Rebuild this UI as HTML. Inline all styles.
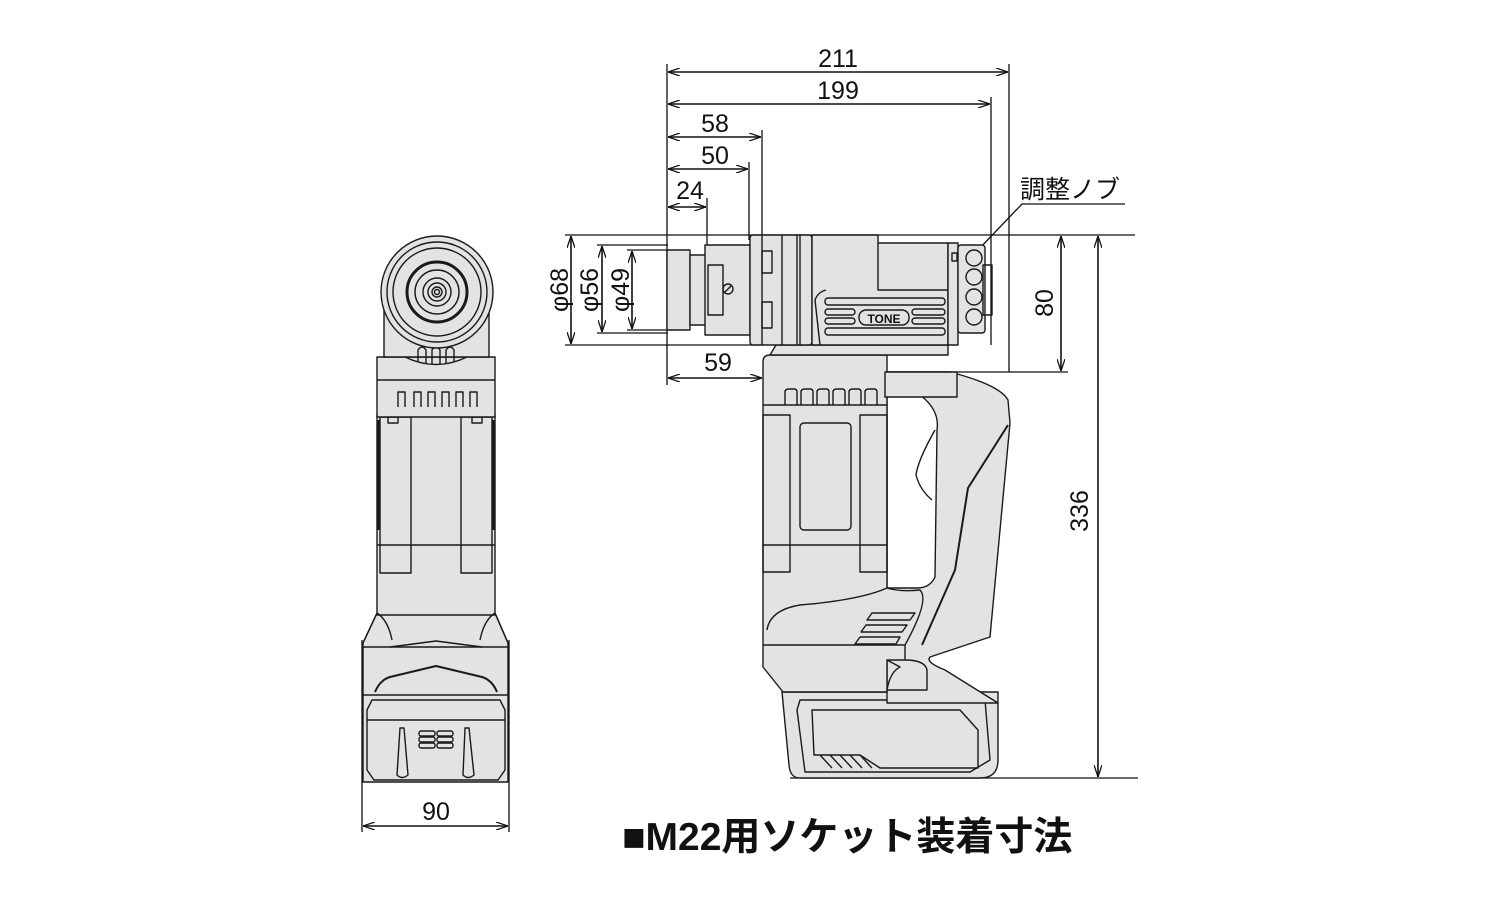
<!DOCTYPE html>
<html><head><meta charset="utf-8"><style>
html,body{margin:0;padding:0;background:#fff}
svg{display:block}
text{font-family:"Liberation Sans Narrow","Liberation Sans","Noto Sans CJK JP",sans-serif;fill:#111}
</style></head><body>
<svg width="1500" height="900" viewBox="0 0 1500 900" xmlns="http://www.w3.org/2000/svg">
<defs>
<marker id="a" viewBox="0 0 12 8" refX="12" refY="4" markerWidth="12" markerHeight="8" orient="auto-start-reverse" markerUnits="userSpaceOnUse"><path d="M0,0 L12,4 L0,8" fill="none" stroke="#111" stroke-width="1.3"/></marker>
</defs>
<!-- LEFT TOOL -->
<g stroke="#1a1a1a" stroke-width="1.4" fill="#e3e3e3" stroke-linejoin="round">
<path d="M377,613 L363,643 L363,782 L508,782 L508,643 L495,613 Z"/>
<rect x="377" y="415" width="118" height="200"/>
<line x1="377" y1="545" x2="495" y2="545"/>
<rect x="380" y="417" width="31" height="156" fill="none"/>
<rect x="461" y="417" width="31" height="156" fill="none"/>
<rect x="388" y="417" width="10" height="6" fill="none"/><rect x="472" y="417" width="10" height="6" fill="none"/>
<line x1="378" y1="420" x2="378" y2="530" stroke-width="3"/><line x1="494" y1="420" x2="494" y2="530" stroke-width="3"/>
<path d="M363,643 L377,613 Q388,620 392,640 M508,643 L495,613 Q484,620 480,640" fill="none"/>
<line x1="363" y1="647" x2="508" y2="647"/>
<path d="M390,647 L436,641 L482,647" fill="none"/>
<path d="M375,692 Q380,680 390,677 L436,666 L482,677 Q492,680 497,692" fill="none" stroke-width="2"/>
<line x1="363" y1="695" x2="508" y2="695"/>
<path d="M372,700 L500,700 L505,710 L505,770 L498,780 L374,780 L367,770 L367,710 Z" fill="none"/>
<line x1="367" y1="720" x2="505" y2="720"/>
<path d="M400,728 L404,728 L408,775 Q402,780 397,775 Z M465,728 L469,728 L474,775 Q468,780 463,775 Z" fill="none"/>
<g fill="none"><rect x="419" y="731" width="16" height="5" rx="2"/><rect x="419" y="737" width="16" height="5" rx="2"/><rect x="419" y="743" width="16" height="5" rx="2"/><rect x="437" y="731" width="16" height="5" rx="2"/><rect x="437" y="737" width="16" height="5" rx="2"/><rect x="437" y="743" width="16" height="5" rx="2"/></g>
<rect x="377" y="357" width="118" height="60"/>
<line x1="377" y1="380" x2="495" y2="380"/>
<g fill="none"><path d="M398,407 V392 H405 V407"/><path d="M414,407 V392 H421 V407"/><path d="M428,407 V392 H435 V407"/><path d="M442,407 V392 H449 V407"/><path d="M456,407 V392 H463 V407"/><path d="M470,407 V392 H477 V407"/></g>
<rect x="384" y="295" width="105" height="62"/>
<path d="M405,357 Q436,372 467,357" fill="none"/>
<g fill="none"><path d="M418,362 V350 Q422,344 426,350 V364"/><path d="M432,365 V350 Q436,344 440,350 V365"/><path d="M446,364 V350 Q450,344 454,350 V362"/></g>
<circle cx="437" cy="292" r="56"/>
<g fill="none"><circle cx="437" cy="292" r="50"/><circle cx="437" cy="292" r="44"/><circle cx="437" cy="292" r="30" stroke-width="3"/><circle cx="437" cy="292" r="22"/><circle cx="437" cy="292" r="14"/><circle cx="437" cy="292" r="9"/><circle cx="437" cy="292" r="5"/><circle cx="437" cy="292" r="2.5"/></g>
</g>
<g stroke="#111" fill="none" stroke-width="1.3">
<line x1="667" y1="64" x2="667" y2="385"/>
<line x1="1009" y1="64" x2="1009" y2="372"/>
<line x1="991" y1="97" x2="991" y2="345"/>
<line x1="762" y1="130" x2="762" y2="240"/>
<line x1="749" y1="162" x2="749" y2="240"/>
<line x1="707" y1="198" x2="707" y2="250"/>
<line x1="565" y1="235" x2="1135" y2="235"/>
<line x1="565" y1="345" x2="760" y2="345"/>
<line x1="597" y1="245" x2="668" y2="245"/>
<line x1="597" y1="333" x2="668" y2="333"/>
<line x1="627" y1="250" x2="668" y2="250"/>
<line x1="627" y1="330" x2="668" y2="330"/>
<line x1="870" y1="372" x2="1068" y2="372"/>
<line x1="790" y1="778" x2="1138" y2="778"/>
<line x1="362" y1="640" x2="362" y2="832"/>
<line x1="509" y1="640" x2="509" y2="832"/>
<g marker-start="url(#a)" marker-end="url(#a)" stroke-width="1.6">
<line x1="668" y1="72" x2="1008" y2="72"/>
<line x1="668" y1="104" x2="990" y2="104"/>
<line x1="668" y1="137" x2="761" y2="137"/>
<line x1="668" y1="169" x2="748" y2="169"/>
<line x1="668" y1="207" x2="706" y2="207"/>
<line x1="668" y1="378" x2="762" y2="378"/>
<line x1="571" y1="236" x2="571" y2="344"/>
<line x1="602" y1="246" x2="602" y2="332"/>
<line x1="632" y1="251" x2="632" y2="329"/>
<line x1="1061" y1="236" x2="1061" y2="371"/>
<line x1="1098" y1="236" x2="1098" y2="777"/>
<line x1="363" y1="826" x2="508" y2="826"/>
</g>
<polyline points="978,250 1022,204 1125,204"/>
</g>
<g font-size="25" text-anchor="middle">
<text x="838" y="67">211</text>
<text x="838" y="99">199</text>
<text x="715" y="132">58</text>
<text x="715" y="164">50</text>
<text x="690" y="199">24</text>
<text x="718" y="371">59</text>
<text x="436" y="820">90</text>
<text transform="translate(1053,303) rotate(-90)">80</text>
<text transform="translate(1088,511) rotate(-90)">336</text>
<text transform="translate(568,290) rotate(-90)">φ68</text>
<text transform="translate(598,290) rotate(-90)">φ56</text>
<text transform="translate(629,290) rotate(-90)">φ49</text>
</g>
<text x="1020" y="198" font-size="25">調整ノブ</text>
<text x="622" y="850" font-size="39" font-weight="bold" style="font-family:'Liberation Sans','Noto Sans CJK JP',sans-serif">■M22用ソケット装着寸法</text>

<!-- RIGHT TOOL -->
<g stroke="#1a1a1a" stroke-width="1.4" fill="#e3e3e3" stroke-linejoin="round">
<path d="M782,692 L998,692 L998,760 Q998,778 980,778 L800,778 Q790,778 789,765 Z"/>
<path d="M800,700 L985,700 L990,760 L970,772 L805,772 L797,710 Z" fill="none"/>
<path d="M812,710 L960,710 L978,730 L978,768 L880,768 L860,755 L814,755 Z" fill="none"/>
<g fill="none"><line x1="820" y1="755" x2="832" y2="768"/><line x1="830" y1="755" x2="842" y2="768"/><line x1="840" y1="755" x2="852" y2="768"/><line x1="850" y1="755" x2="862" y2="768"/><line x1="860" y1="755" x2="872" y2="768"/></g>
<path d="M887,372 L950,372 Q1000,385 1008,400 L1010,423 L990,637 L930,657 Q925,662 945,670 L998,703 L887,703 Z"/>
<path d="M887,395 L920,395 Q940,410 937,430 L935,577 Q930,588 917,588 L887,588 Z" fill="#fff"/>
<path d="M1008,425 L968,488 L955,570 L922,645" fill="none" stroke-width="2"/>
<path d="M935,430 Q918,460 916,475 Q920,490 932,500" fill="none"/>
<path d="M770,355 L887,355 L887,588 Q900,592 920,590 Q930,600 905,645 L905,660 L887,660 L887,692 L783,692 L763,667 L763,362 Q763,355 770,355 Z"/>
<path d="M887,660 L900,667 Q890,672 887,690 L927,690 L927,670 Q925,660 905,660" fill="none"/>
<path d="M767,630 Q770,610 800,605 Q860,600 887,588" fill="none"/>
<line x1="763" y1="645" x2="905" y2="645"/>
<line x1="763" y1="405" x2="887" y2="405"/>
<line x1="763" y1="545" x2="887" y2="545"/>
<rect x="763" y="415" width="27" height="157" fill="none"/>
<rect x="860" y="415" width="27" height="157" fill="none"/>
<rect x="800" y="423" width="51" height="107" rx="4" fill="none"/>
<g fill="none"><path d="M785,405 V392 Q785,389 789,389 H794 Q797,389 797,392 V405"/><path d="M801,405 V392 Q801,389 805,389 H810 Q813,389 813,392 V405"/><path d="M817,405 V392 Q817,389 821,389 H826 Q829,389 829,392 V405"/><path d="M833,405 V392 Q833,389 837,389 H842 Q845,389 845,392 V405"/><path d="M849,405 V392 Q849,389 853,389 H858 Q861,389 861,392 V405"/><path d="M865,405 V392 Q865,389 869,389 H874 Q877,389 877,392 V405"/></g>
<path d="M872,613 L915,613 L910,620 L867,620 Z M866,625 L907,625 L902,632 L861,632 Z M860,637 L900,637 L896,644 L855,644 Z" fill="none"/>
<rect x="885" y="372" width="72" height="25" fill="#e3e3e3"/>
<path d="M776,345 L770,355 L948,355 L948,345 Z"/>
<rect x="667" y="250" width="23" height="80"/>
<rect x="690" y="255" width="18" height="70"/>
<rect x="705" y="245" width="45" height="90"/>
<rect x="708" y="265" width="15" height="50" fill="none"/>
<circle cx="728" cy="289" r="5" fill="none"/>
<line x1="725" y1="292" x2="731" y2="286"/>
<rect x="750" y="235" width="62" height="110" rx="3"/>
<line x1="762" y1="235" x2="762" y2="345"/><line x1="782" y1="235" x2="782" y2="345"/><line x1="797" y1="235" x2="797" y2="345"/><line x1="800" y1="235" x2="800" y2="345"/>
<rect x="762" y="251" width="10" height="22" fill="none"/><rect x="762" y="302" width="10" height="26" fill="none"/>
<path d="M812,235 L878,235 L878,243 L948,243 L948,345 L812,345 Z"/>
<path d="M878,243 L878,290 L948,290" fill="none"/>
<path d="M820,345 L815,300 Q818,292 826,290" fill="none"/>
<g fill="none"><rect x="825" y="298" width="120" height="7" rx="3"/><rect x="825" y="309" width="30" height="6" rx="3"/><rect x="825" y="318" width="30" height="6" rx="3"/><rect x="912" y="309" width="33" height="6" rx="3"/><rect x="912" y="318" width="33" height="6" rx="3"/><rect x="825" y="328" width="120" height="7" rx="3"/><rect x="859" y="310" width="50" height="15" rx="7"/></g>
<text x="884" y="323" font-size="12" font-weight="bold" text-anchor="middle" stroke="none" style="fill:#111">TONE</text>
<rect x="948" y="243" width="10" height="102"/>
<rect x="958" y="245" width="27" height="88" rx="3"/>
<rect x="952" y="253" width="5" height="8" fill="none"/>
<rect x="983" y="265" width="9" height="50" fill="none"/>
<circle cx="974" cy="258" r="8"/><circle cx="974" cy="277" r="8"/><circle cx="974" cy="297" r="8"/><circle cx="974" cy="317" r="8"/>
</g>
</svg>
</body></html>
